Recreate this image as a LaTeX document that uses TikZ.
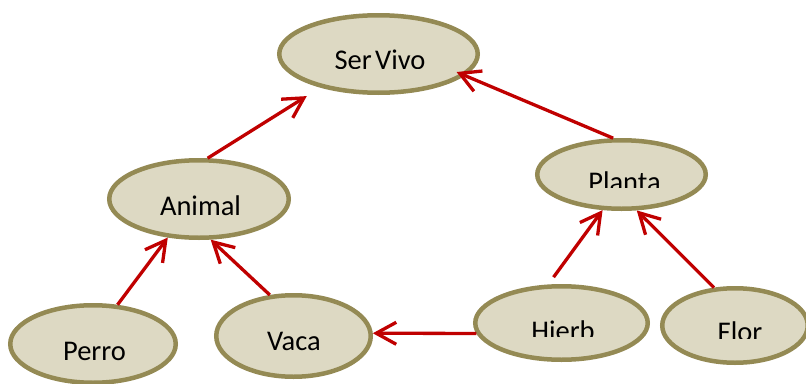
\documentclass[tikz,border=0pt]{standalone}
\usepackage{fontspec}
\setmainfont{Carlito}
\usetikzlibrary{arrows.meta,shapes.geometric}
\definecolor{ellfill}{HTML}{DDD9C3}
\definecolor{ellline}{HTML}{948A54}
\definecolor{arrred}{HTML}{C00000}
\begin{document}
\begin{tikzpicture}[x=1pt,y=-1pt,
  ell/.style={ellipse,draw=ellline,fill=ellfill,line width=4.5pt,inner sep=0pt},
  lbl/.style={anchor=base,inner sep=0pt,font=\fontsize{28.5}{30}\selectfont,text=black},
  link/.style={draw=arrred,line width=3.3pt,-{Straight Barb[length=20pt,width=22pt]}}]
\useasboundingbox (0,0) rectangle (806,383);
% ellipses
\node[ell,minimum width=198.5pt,minimum height=77.5pt] (ser) at (378.5,54) {};
\node[ell,minimum width=179.5pt,minimum height=77.5pt] (animal) at (199,199) {};
\node[ell,minimum width=168.5pt,minimum height=68.5pt] (planta) at (621.5,174.5) {};
\node[ell,minimum width=165.5pt,minimum height=77.5pt] (perro) at (93,344) {};
\node[ell,minimum width=154.5pt,minimum height=81.5pt] (vaca) at (293.5,336) {};
\node[ell,minimum width=172.5pt,minimum height=73.5pt] (hierb) at (561.5,323) {};
\node[ell,minimum width=145.5pt,minimum height=74.5pt] (flor) at (735,325.5) {};
% labels
\begin{scope}
  \clip (0,0) rectangle (806,68.3);
  \node[lbl] (tser) at (380,69.5) {Ser\hspace{0.12em}Vivo};
\end{scope}
\begin{scope}
  \clip (0,100) rectangle (806,187.7);
  \node[lbl] (tplanta) at (624.5,191.6) {Planta};
\end{scope}
\begin{scope}
  \clip (0,290) rectangle (806,336.7);
  \node[lbl] (thierb) at (563,340) {Hierb};
\end{scope}
\begin{scope}
  \clip (0,290) rectangle (806,338.3);
  \node[lbl] (tflor) at (740,341.6) {Flor};
\end{scope}
\node[lbl] (tanimal) at (200.5,215) {Animal};
\node[lbl] (tperro) at (94.5,360) {Perro};
\node[lbl] (tvaca) at (294,350) {Vaca};
% connectors
\draw[link] (perro.58) -- (animal.231);
\draw[link] (vaca.120) -- (animal.286);
\draw[link,shorten >=16pt] (animal.78) -- (ser.210);
\draw[link,shorten >=-9pt] (planta.103) -- (ser.346);
\draw[link,shorten <=9pt] (hierb.109) -- (planta.242);
\draw[link] (flor.119) -- (planta.293);
\draw[link] (hierb.187) -- (vaca.2);
\end{tikzpicture}
\end{document}
